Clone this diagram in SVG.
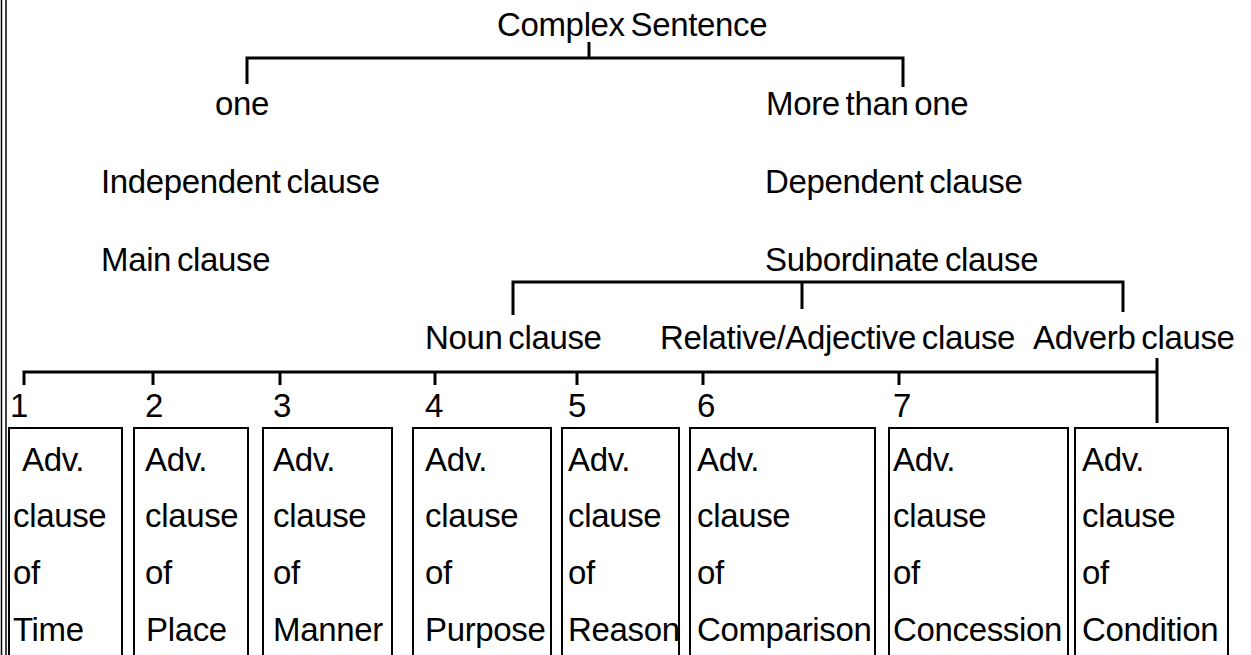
<svg xmlns="http://www.w3.org/2000/svg" width="1251" height="655" viewBox="0 0 1251 655">
  <style>
    text { font-family: "Liberation Sans", Arial, sans-serif; font-size: 33px; letter-spacing: -0.35px; word-spacing: -3px; fill: #000; }
    .ln { stroke: #000; stroke-width: 3; fill: none; }
    .box { stroke: #000; stroke-width: 2; fill: #fff; }
    .edge { stroke: #000; stroke-width: 1.5; }
  </style>
  <rect width="1251" height="655" fill="#fff"/>
  <g id="page-edge">
    <line class="edge" x1="1.5" y1="0" x2="1.5" y2="655"/>
    <line class="edge" x1="6" y1="0" x2="6" y2="655"/>
  </g>
  <g id="connectors">
    <path class="ln" d="M589 42 V58 M247 84 V58 H903 V87"/>
    <path class="ln" d="M513 315 V282 H1123 V312 M802 282 V309"/>
    <path class="ln" d="M24 385 V372 H1157 M1157 358 V423 M153 372 V385 M280 372 V385 M435 372 V385 M577 372 V385 M703 372 V385 M899 372 V385"/>
  </g>
  <g id="n-complex"><text x="497" y="36">Complex Sentence</text></g>
  <g id="n-one"><text x="215" y="115">one</text></g>
  <g id="n-more"><text x="766" y="115">More than one</text></g>
  <g id="n-independent"><text x="101" y="193">Independent clause</text></g>
  <g id="n-main"><text x="101" y="271">Main clause</text></g>
  <g id="n-dependent"><text x="765" y="193">Dependent clause</text></g>
  <g id="n-subordinate"><text x="765" y="271">Subordinate clause</text></g>
  <g id="n-noun"><text x="425" y="349">Noun clause</text></g>
  <g id="n-relative"><text x="660" y="349">Relative/Adjective clause</text></g>
  <g id="n-adverb"><text x="1033" y="349">Adverb clause</text></g>
  <g id="numbers">
    <text x="10" y="417">1</text>
    <text x="145" y="417">2</text>
    <text x="273" y="417">3</text>
    <text x="425" y="417">4</text>
    <text x="568" y="417">5</text>
    <text x="697" y="417">6</text>
    <text x="893" y="417">7</text>
  </g>
  <g id="box-time">
    <rect class="box" x="9" y="428" width="113" height="240"/>
    <text x="22" y="471">Adv.</text><text x="13" y="527">clause</text><text x="13" y="584">of</text><text x="13" y="641">Time</text>
  </g>
  <g id="box-place">
    <rect class="box" x="134" y="428" width="114" height="240"/>
    <text x="145" y="471">Adv.</text><text x="145" y="527">clause</text><text x="145" y="584">of</text><text x="146" y="641">Place</text>
  </g>
  <g id="box-manner">
    <rect class="box" x="263" y="428" width="129" height="240"/>
    <text x="273" y="471">Adv.</text><text x="273" y="527">clause</text><text x="273" y="584">of</text><text x="273" y="641">Manner</text>
  </g>
  <g id="box-purpose">
    <rect class="box" x="413" y="428" width="138" height="240"/>
    <text x="425" y="471">Adv.</text><text x="425" y="527">clause</text><text x="425" y="584">of</text><text x="425" y="641">Purpose</text>
  </g>
  <g id="box-reason">
    <rect class="box" x="562" y="428" width="117" height="240"/>
    <text x="568" y="471">Adv.</text><text x="568" y="527">clause</text><text x="568" y="584">of</text><text x="568" y="641">Reason</text>
  </g>
  <g id="box-comparison">
    <rect class="box" x="690" y="428" width="185" height="240"/>
    <text x="697" y="471">Adv.</text><text x="697" y="527">clause</text><text x="697" y="584">of</text><text x="697" y="641">Comparison</text>
  </g>
  <g id="box-concession">
    <rect class="box" x="889" y="428" width="179" height="240"/>
    <text x="893" y="471">Adv.</text><text x="893" y="527">clause</text><text x="893" y="584">of</text><text x="893" y="641">Concession</text>
  </g>
  <g id="box-condition">
    <rect class="box" x="1075" y="428" width="153" height="240"/>
    <text x="1082" y="471">Adv.</text><text x="1082" y="527">clause</text><text x="1082" y="584">of</text><text x="1082" y="641">Condition</text>
  </g>
</svg>
